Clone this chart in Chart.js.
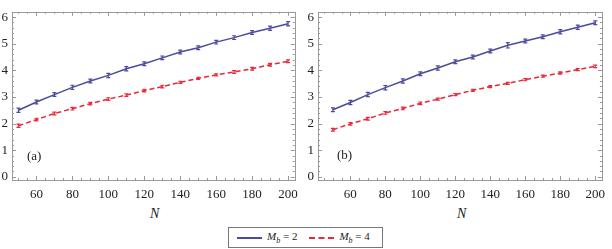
<!DOCTYPE html>
<html>
<head>
<meta charset="utf-8">
<script src="https://cdn.jsdelivr.net/npm/chart.js@4/dist/chart.umd.min.js"></script>
<style>
  body { margin: 0; background: #fff; }
  #wrap { position: relative; width: 612px; height: 249px; overflow: hidden; font-family: "Liberation Serif", "DejaVu Serif", "Times New Roman", serif; }
  canvas { position: absolute; top: 0; }
  .lbl { position: absolute; font-size: 13px; color: #222; }
  .nlab { position: absolute; font-size: 14px; font-style: italic; color: #222; }
  #legend { position: absolute; left: 228px; top: 227px; width: 155px; height: 21px; border: 1px solid #777; box-sizing: border-box;
            display: flex; align-items: center; font-size: 11px; color: #222; }
  .sw { display: inline-block; width: 25px; height: 0; margin: 0 5px 0 8px; }
  .m { font-style: italic; }
  sub { font-size: 8px; font-style: italic; }
</style>
</head>
<body>
<div id="wrap">
  <canvas id="chartA" width="305" height="205" style="left:0"></canvas>
  <canvas id="chartB" width="307" height="205" style="left:305px"></canvas>
  <div class="lbl" style="left:27px; top:148px">(a)</div>
  <div class="lbl" style="left:337px; top:147px">(b)</div>
  <div class="nlab" style="left:150px; top:206px">N</div>
  <div class="nlab" style="left:457px; top:206px">N</div>
  <div id="legend">
    <span class="sw" style="border-top:2px solid #4b4b9e"></span><span><span class="m">M</span><sub>b</sub> = 2</span>
    <span class="sw" style="border-top:2px dashed #e8283c; margin-left:12px"></span><span><span class="m">M</span><sub>b</sub> = 4</span>
  </div>
</div>
<script>
const N = [50, 60, 70, 80, 90, 100, 110, 120, 130, 140, 150, 160, 170, 180, 190, 200];

// panel (a)
const blueA = [2.50, 2.81, 3.09, 3.36, 3.60, 3.81, 4.06, 4.25, 4.47, 4.69, 4.85, 5.06, 5.23, 5.42, 5.58, 5.75];
const blueAErr = [0.08, 0.07, 0.07, 0.08, 0.07, 0.08, 0.08, 0.07, 0.07, 0.07, 0.07, 0.07, 0.07, 0.07, 0.08, 0.08];
const redA = [1.92, 2.15, 2.38, 2.56, 2.75, 2.92, 3.07, 3.24, 3.39, 3.55, 3.70, 3.83, 3.94, 4.06, 4.21, 4.34];
const redAErr = [0.06, 0.05, 0.05, 0.05, 0.05, 0.05, 0.05, 0.05, 0.05, 0.04, 0.04, 0.04, 0.05, 0.05, 0.05, 0.05];

// panel (b)
const blueB = [2.52, 2.79, 3.09, 3.35, 3.60, 3.87, 4.09, 4.32, 4.50, 4.73, 4.94, 5.10, 5.26, 5.45, 5.62, 5.79];
const blueBErr = [0.07, 0.08, 0.08, 0.08, 0.08, 0.07, 0.08, 0.07, 0.07, 0.07, 0.10, 0.07, 0.07, 0.08, 0.08, 0.07];
const redB = [1.77, 1.99, 2.18, 2.40, 2.57, 2.76, 2.92, 3.09, 3.25, 3.39, 3.51, 3.65, 3.78, 3.90, 4.03, 4.15];
const redBErr = [0.05, 0.05, 0.05, 0.05, 0.05, 0.05, 0.04, 0.04, 0.04, 0.04, 0.04, 0.04, 0.04, 0.04, 0.04, 0.05];

const xTicks = [60, 80, 100, 120, 140, 160, 180, 200];
const yTicks = [0, 1, 2, 3, 4, 5, 6];

const BLUE = "#4b4b9e";
const RED = "#e8283c";
const SERIF = '"Liberation Serif", "DejaVu Serif", "Times New Roman", serif';

const errorBars = {
    id: "errorBars",
    afterDatasetsDraw(chart) {
        const ctx = chart.ctx;
        const xs = chart.scales.x, ys = chart.scales.y;
        chart.data.datasets.forEach(ds => {
            ctx.save();
            ctx.strokeStyle = ds.borderColor;
            ctx.lineWidth = 1.2;
            ds.data.forEach((p, i) => {
                const e = ds.errors[i];
                const px = xs.getPixelForValue(p.x);
                const y1 = ys.getPixelForValue(p.y - e);
                const y2 = ys.getPixelForValue(p.y + e);
                ctx.beginPath();
                ctx.moveTo(px, y1); ctx.lineTo(px, y2);
                ctx.moveTo(px - 2, y1); ctx.lineTo(px + 2, y1);
                ctx.moveTo(px - 2, y2); ctx.lineTo(px + 2, y2);
                ctx.stroke();
            });
            ctx.restore();
        });
    }
};

const frameTicks = {
    id: "frameTicks",
    afterDraw(chart) {
        const ctx = chart.ctx;
        const a = chart.chartArea;
        const xs = chart.scales.x, ys = chart.scales.y;
        ctx.save();
        ctx.strokeStyle = "#999";
        ctx.lineWidth = 1;
        ctx.strokeRect(Math.round(a.left) + 0.5, Math.round(a.top) + 0.5, Math.round(a.right - a.left), Math.round(a.bottom - a.top));
        ctx.beginPath();
        for (let v = 45; v <= 205; v += 5) {
            if (v < xs.min || v > xs.max) continue;
            const len = v % 20 === 0 ? 4 : 2;
            const px = Math.round(xs.getPixelForValue(v)) + 0.5;
            ctx.moveTo(px, a.bottom); ctx.lineTo(px, a.bottom - len);
            ctx.moveTo(px, a.top); ctx.lineTo(px, a.top + len);
        }
        for (let k = 0; k <= 31; k++) {
            const v = k * 0.2;
            if (v < ys.min || v > ys.max) continue;
            const len = k % 5 === 0 ? 4 : 2;
            const py = Math.round(ys.getPixelForValue(v)) + 0.5;
            ctx.moveTo(a.left, py); ctx.lineTo(a.left + len, py);
            ctx.moveTo(a.right, py); ctx.lineTo(a.right - len, py);
        }
        ctx.stroke();
        ctx.restore();
    }
};

function makeChart(id, blue, blueErr, red, redErr, xMin, xMax, yAxisWidth, padRight) {
    const font = { family: SERIF, size: 13 };
    return new Chart(document.getElementById(id), {
        type: "line",
        data: {
            datasets: [{
                data: N.map((x, i) => ({ x: x, y: blue[i] })),
                errors: blueErr,
                borderColor: BLUE,
                borderWidth: 1.5,
                pointRadius: 0,
                tension: 0
            }, {
                data: N.map((x, i) => ({ x: x, y: red[i] })),
                errors: redErr,
                borderColor: RED,
                borderWidth: 1.5,
                borderDash: [5, 3],
                pointRadius: 0,
                tension: 0
            }]
        },
        options: {
            responsive: false,
            animation: false,
            layout: { padding: { top: 3, right: padRight, left: 0, bottom: 0 } },
            plugins: { legend: { display: false }, tooltip: { enabled: false } },
            scales: {
                x: {
                    type: "linear",
                    min: xMin,
                    max: xMax,
                    grid: { display: false, drawTicks: false },
                    border: { display: false },
                    afterBuildTicks: s => { s.ticks = xTicks.map(v => ({ value: v })); },
                    afterFit: s => { s.height = 25; },
                    ticks: { font: font, color: "#222", padding: 7, maxRotation: 0, autoSkip: false }
                },
                y: {
                    min: -0.12,
                    max: 6.2,
                    grid: { display: false, drawTicks: false },
                    border: { display: false },
                    afterBuildTicks: s => { s.ticks = yTicks.map(v => ({ value: v })); },
                    afterFit: s => { s.width = yAxisWidth; },
                    ticks: { font: font, color: "#222", padding: 4 }
                }
            }
        },
        plugins: [errorBars, frameTicks]
    });
}

makeChart("chartA", blueA, blueAErr, redA, redAErr, 46.4, 203.7, 12, 8);
makeChart("chartB", blueB, blueBErr, redB, redBErr, 41.5, 203.8, 13, 0);
</script>
</body>
</html>
